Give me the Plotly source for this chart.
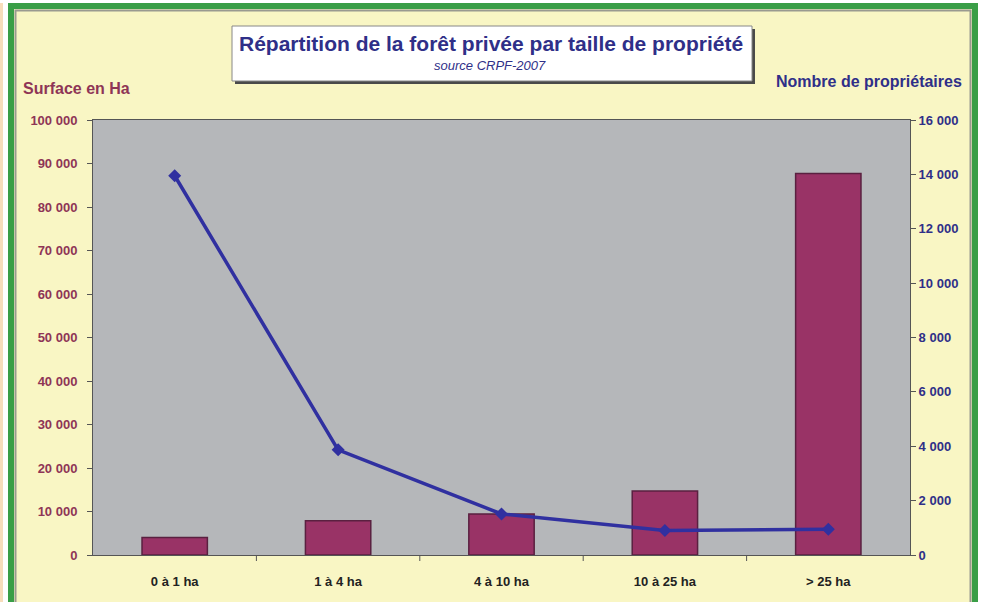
import plotly.graph_objects as go

categories = ["0 à 1 ha", "1 à 4 ha", "4 à 10 ha", "10 à 25 ha", "> 25 ha"]
surface_ha = [4000, 7900, 9400, 14700, 87700]
nb_proprietaires = [13950, 3870, 1510, 900, 950]
left_ticks = list(range(0, 100001, 10000))
right_ticks = list(range(0, 16001, 2000))

W, H = 981, 602
L, R, T, B = 93, 910, 120, 555  # plot area in pixels


def px(x):
    return (x - L) / (R - L)


def py(y):
    return (B - y) / (B - T)


YELLOW = "#F9F6C4"
GRAY = "#B5B7BA"
GREEN = "#3A9E47"
MAROON = "#8E3556"
NAVY = "#2F2F88"
FONT = "Liberation Sans, Arial, sans-serif"

fig = go.Figure()
fig.add_trace(go.Bar(
    x=categories, y=surface_ha, yaxis="y",
    marker=dict(color="#993366", line=dict(color="#5A2040", width=1.5)),
    width=0.4, name="Surface en Ha", showlegend=False,
))
fig.add_trace(go.Scatter(
    x=categories, y=nb_proprietaires, yaxis="y2", mode="lines+markers",
    line=dict(color="#3030A0", width=3.5),
    marker=dict(symbol="diamond", size=10, color="#3030A0"),
    name="Nombre de propriétaires", showlegend=False,
))

shapes = []
# white outside strips
shapes.append(dict(type="rect", xref="paper", yref="paper", layer="above",
                   x0=px(0), x1=px(8), y0=py(0), y1=py(H), fillcolor="white", line=dict(width=0)))
shapes.append(dict(type="rect", xref="paper", yref="paper", layer="above",
                   x0=px(0), x1=px(3), y0=py(0), y1=py(H), fillcolor="#F7DDBB", line=dict(width=0)))
shapes.append(dict(type="rect", xref="paper", yref="paper", layer="above",
                   x0=px(978), x1=px(W), y0=py(0), y1=py(H), fillcolor="white", line=dict(width=0)))
shapes.append(dict(type="rect", xref="paper", yref="paper", layer="above",
                   x0=px(0), x1=px(W), y0=py(0), y1=py(3), fillcolor="white", line=dict(width=0)))
# green frame
shapes.append(dict(type="rect", xref="paper", yref="paper", layer="above",
                   x0=px(11), x1=px(975), y0=py(6), y1=py(H + 10),
                   line=dict(color=GREEN, width=6)))
# inner gray frame
shapes.append(dict(type="rect", xref="paper", yref="paper", layer="above",
                   x0=px(15.5), x1=px(970.5), y0=py(10.5), y1=py(H + 10),
                   line=dict(color="#9A9A90", width=2)))
# title box shadow and box
shapes.append(dict(type="rect", xref="paper", yref="paper", layer="above",
                   x0=px(235), x1=px(755), y0=py(29), y1=py(84),
                   fillcolor="#4A4A4A", line=dict(width=0)))
shapes.append(dict(type="rect", xref="paper", yref="paper", layer="above",
                   x0=px(232), x1=px(752), y0=py(26), y1=py(81),
                   fillcolor="white", line=dict(color="#888888", width=1)))

annotations = [
    dict(text="<b>Répartition de la forêt privée par taille de propriété</b>",
         x=px(491), y=py(43), xref="paper", yref="paper", showarrow=False,
         xanchor="center", yanchor="middle", font=dict(family=FONT, size=21, color=NAVY)),
    dict(text="<i>source CRPF-2007</i>",
         x=px(490), y=py(65), xref="paper", yref="paper", showarrow=False,
         xanchor="center", yanchor="middle", font=dict(family=FONT, size=13, color=NAVY)),
    dict(text="<b>Surface en Ha</b>",
         x=px(21), y=py(89), xref="paper", yref="paper", showarrow=False,
         xanchor="left", yanchor="middle", font=dict(family=FONT, size=16, color=MAROON)),
    dict(text="<b>Nombre de propriétaires</b>",
         x=px(964), y=py(81), xref="paper", yref="paper", showarrow=False,
         xanchor="right", yanchor="middle", font=dict(family=FONT, size=16, color=NAVY)),
]

fig.update_layout(
    width=W, height=H,
    margin=dict(l=L, r=W - R, t=T, b=H - B, pad=0),
    paper_bgcolor=YELLOW, plot_bgcolor=GRAY,
    separators=", ",
    font=dict(family=FONT),
    xaxis=dict(
        showgrid=False, showline=True, linecolor="#555555", linewidth=1, mirror=True,
        ticks="", ticklabelstandoff=14,
        tickfont=dict(family=FONT, size=13, color="#222222", weight="bold"),
    ),
    yaxis=dict(
        range=[0, 100000], tickvals=left_ticks, tickformat=",d",
        showgrid=False, showline=True, linecolor="#555555", linewidth=1,
        ticks="outside", ticklen=5, tickcolor="#555555", ticklabelstandoff=7,
        tickfont=dict(family=FONT, size=13, color=MAROON, weight="bold"), zeroline=False,
    ),
    yaxis2=dict(
        range=[0, 16000], tickvals=right_ticks, tickformat=",d",
        overlaying="y", side="right",
        showgrid=False, showline=True, linecolor="#555555", linewidth=1,
        ticks="outside", ticklen=5, tickcolor="#555555",
        tickfont=dict(family=FONT, size=13, color=NAVY, weight="bold"), zeroline=False,
    ),
    shapes=shapes, annotations=annotations,
)

# category separator tick marks on x axis
for i in range(1, len(categories)):
    fig.add_shape(type="line", xref="x", yref="paper", x0=i - 0.5, x1=i - 0.5,
                  y0=0, y1=py(B + 6), line=dict(color="#555555", width=1), layer="above")

fig.write_html("out.html", config={"displayModeBar": False},
               post_script="document.body.style.margin='0';document.body.style.overflow='hidden';")
